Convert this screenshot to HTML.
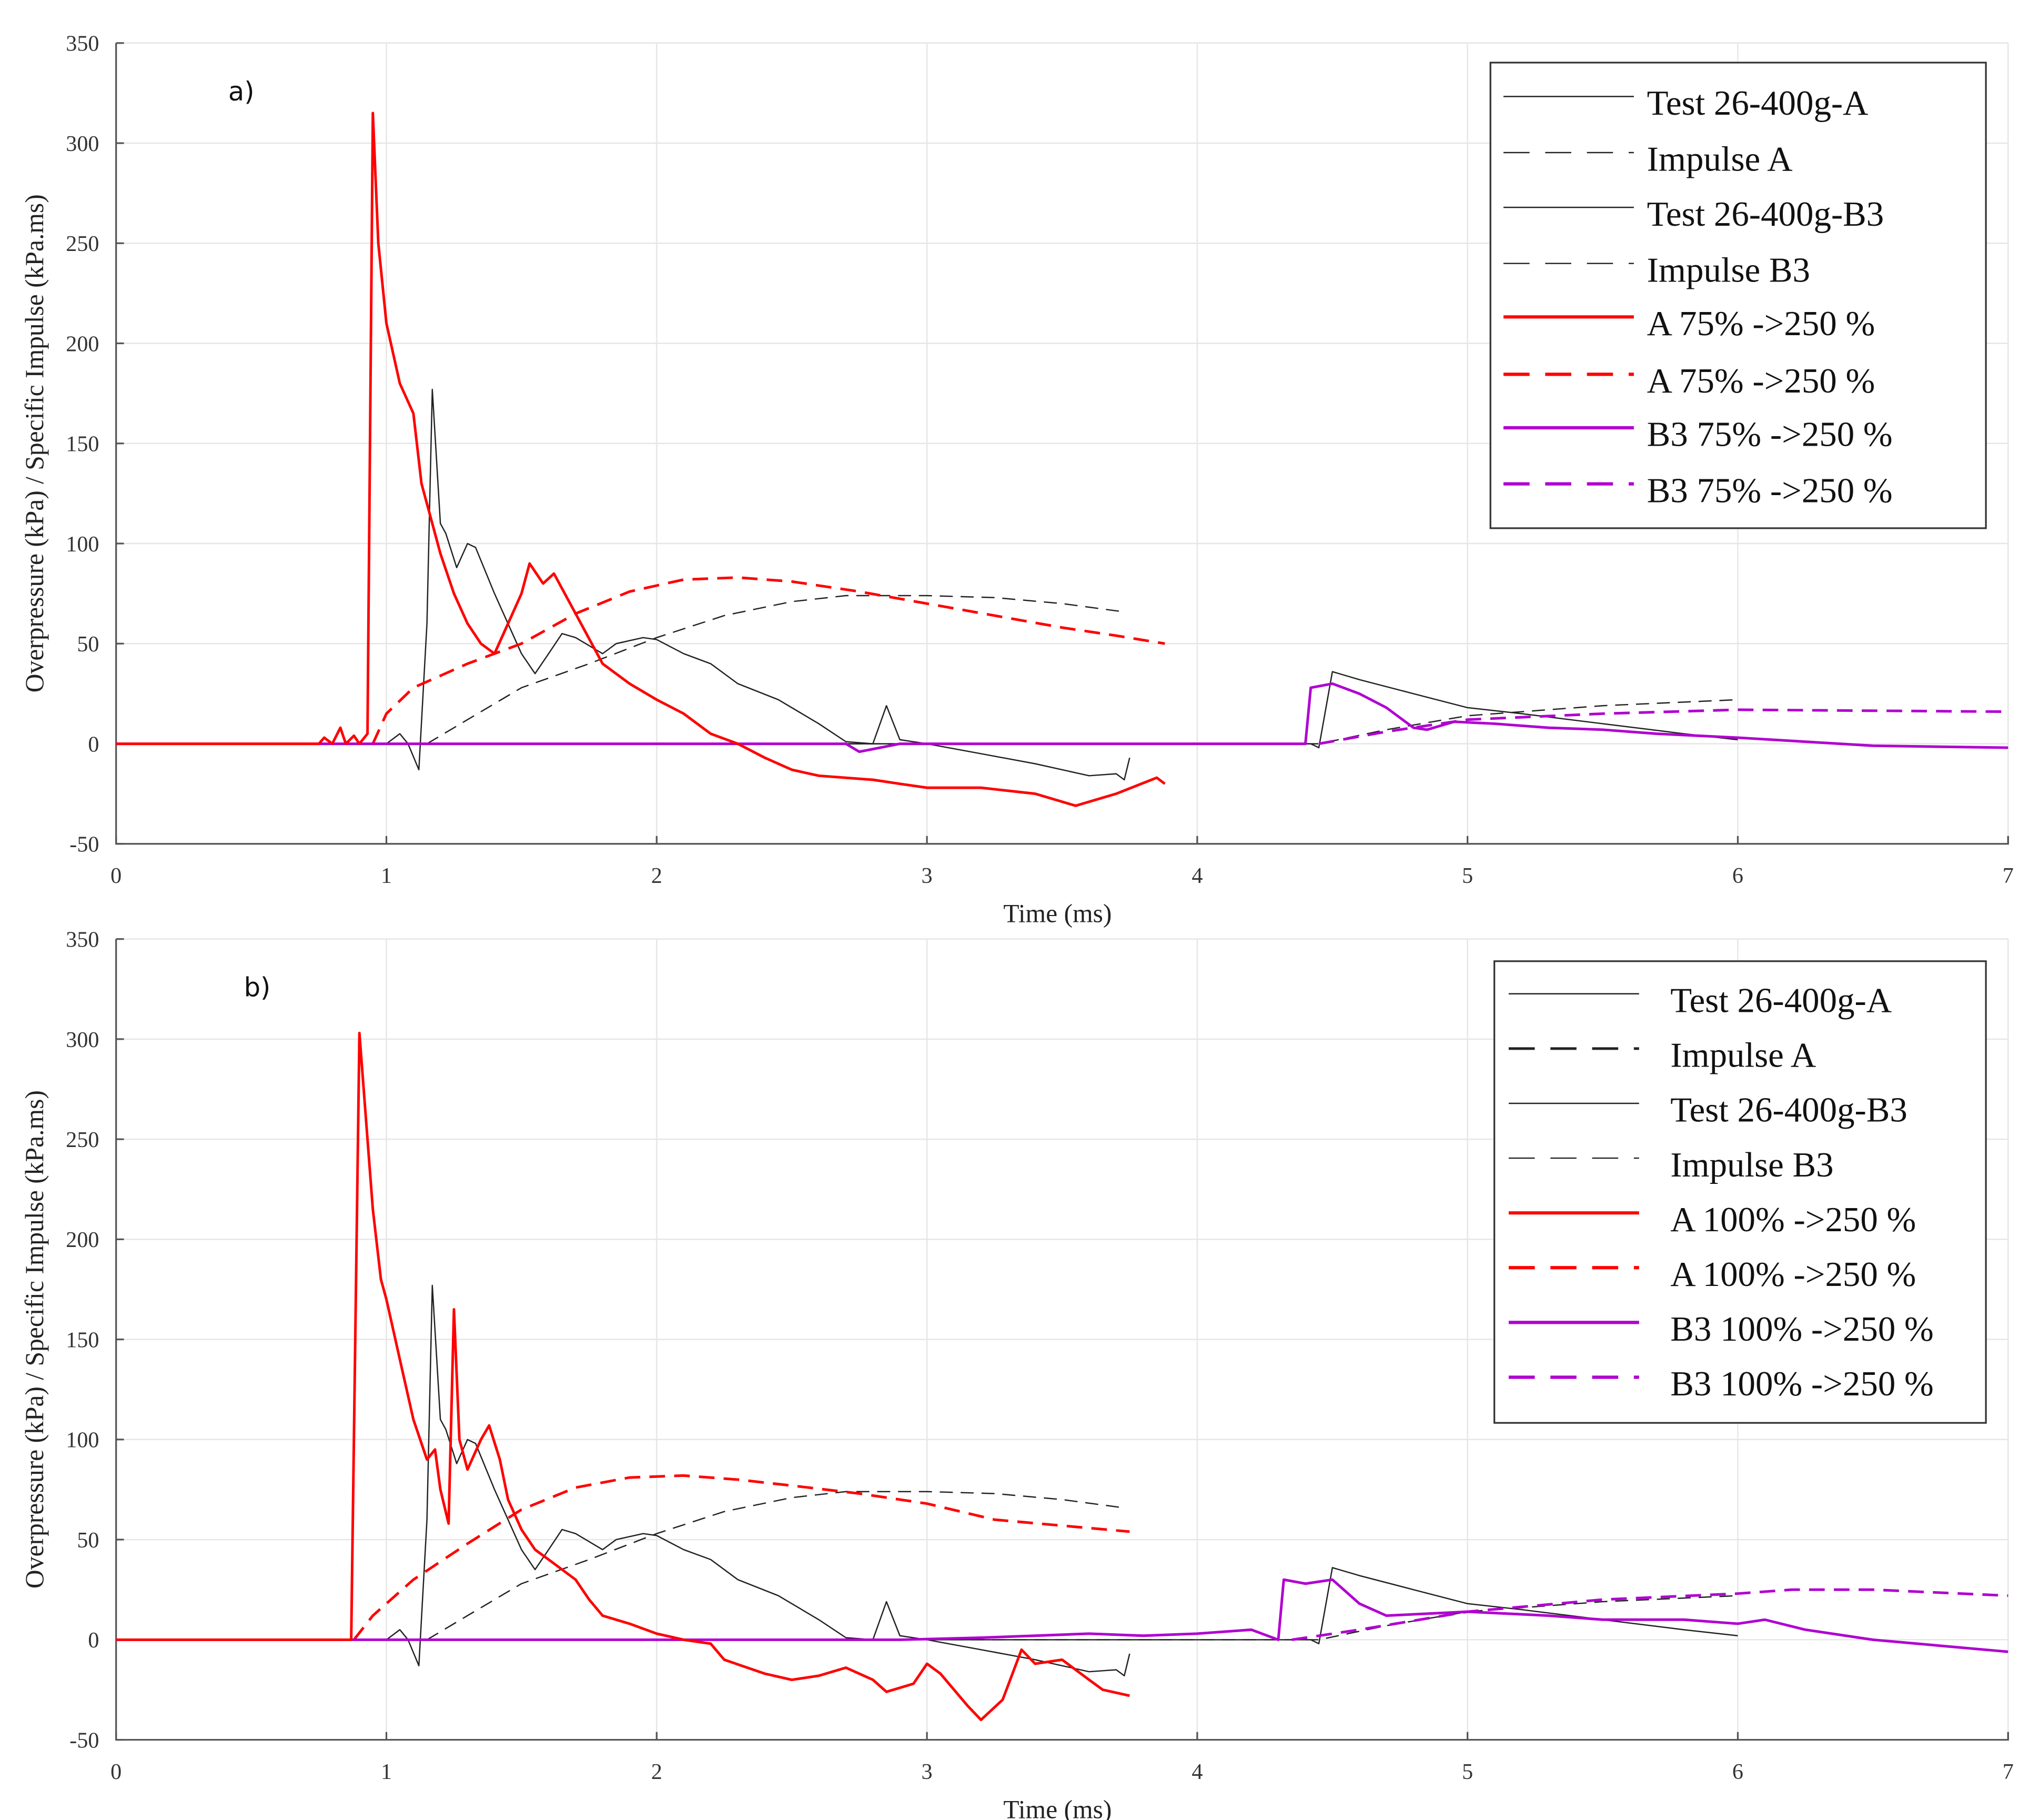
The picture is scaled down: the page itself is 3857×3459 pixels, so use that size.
<!DOCTYPE html>
<html><head><meta charset="utf-8"><style>
html,body{margin:0;padding:0;background:#fff}
svg{display:block}
</style></head><body>
<svg id="chart" xmlns="http://www.w3.org/2000/svg" width="3857" height="3459" viewBox="0 0 1556 1395.5"></svg>
<script>
// ---- data (time in ms, value in kPa / kPa.ms) ----
const xTicks = [0,1,2,3,4,5,6,7];
const yTicks = [-50,0,50,100,150,200,250,300,350];

const testA_t = [0,1.0,1.05,1.08,1.12,1.15,1.17,1.2,1.22,1.26,1.3,1.33,1.4,1.5,1.55,1.6,1.65,1.7,1.8,1.85,1.95,2.0,2.1,2.2,2.3,2.45,2.6,2.7,2.8,2.85,2.9,3.0,3.2,3.4,3.6,3.7,3.73,3.75];
const testA_v = [0,0,5,0,-13,60,177,110,105,88,100,98,75,45,35,45,55,53,45,50,53,52,45,40,30,22,10,1,0,19,2,0,-5,-10,-16,-15,-18,-7];
const testB3_t = [0,4.42,4.45,4.5,4.6,4.8,5.0,5.2,5.5,5.8,6.0];
const testB3_v = [0,0,-2,36,32,25,18,15,10,5,2];
const impA_t = [1.15,1.3,1.5,1.75,2.0,2.25,2.5,2.7,3.0,3.25,3.5,3.72];
const impA_v = [0,12,28,40,53,64,71,74,74,73,70,66];
const impB3_t = [0,4.45,4.7,5.0,5.5,6.0];
const impB3_v = [0,0,7,14,19,22];

const a_redS_t = [0,0.75,0.77,0.8,0.83,0.85,0.88,0.9,0.93,0.95,0.97,1.0,1.05,1.1,1.13,1.17,1.2,1.25,1.3,1.35,1.4,1.45,1.5,1.53,1.58,1.62,1.7,1.8,1.9,2.0,2.1,2.2,2.3,2.4,2.5,2.6,2.8,2.9,3.0,3.2,3.4,3.55,3.7,3.85,3.88];
const a_redS_v = [0,0,3,0,8,0,4,0,5,315,250,210,180,165,130,110,95,75,60,50,45,60,75,90,80,85,65,40,30,22,15,5,0,-7,-13,-16,-18,-20,-22,-22,-25,-31,-25,-17,-20];
const a_redD_t = [0.95,1.0,1.1,1.3,1.5,1.7,1.9,2.1,2.3,2.5,2.75,3.0,3.25,3.5,3.7,3.88];
const a_redD_v = [0,15,28,40,50,65,76,82,83,81,76,70,64,58,54,50];
const a_magS_t = [0,2.7,2.75,2.9,4.4,4.42,4.5,4.6,4.7,4.8,4.85,4.95,5.1,5.3,5.5,5.7,6.0,6.5,7.0];
const a_magS_v = [0,0,-4,0,0,28,30,25,18,8,7,11,10,8,7,5,3,-1,-2];
const a_magD_t = [4.45,4.7,5.0,5.5,6.0,7.0];
const a_magD_v = [0,6,12,15,17,16];

const b_redS_t = [0,0.87,0.9,0.93,0.95,0.98,1.0,1.05,1.1,1.15,1.18,1.2,1.23,1.25,1.27,1.3,1.35,1.38,1.42,1.45,1.5,1.55,1.6,1.7,1.75,1.8,1.9,2.0,2.1,2.2,2.25,2.4,2.5,2.6,2.7,2.8,2.85,2.95,3.0,3.05,3.15,3.2,3.28,3.35,3.4,3.5,3.6,3.65,3.75];
const b_redS_v = [0,0,303,250,215,180,170,140,110,90,95,75,58,165,100,85,100,107,90,70,55,45,40,30,20,12,8,3,0,-2,-10,-17,-20,-18,-14,-20,-26,-22,-12,-17,-33,-40,-30,-5,-12,-10,-20,-25,-28];
const b_redD_t = [0.88,0.95,1.1,1.3,1.5,1.7,1.9,2.1,2.3,2.5,2.75,3.0,3.25,3.5,3.75];
const b_redD_v = [0,12,30,48,65,76,81,82,80,77,73,68,60,57,54];
const b_magS_t = [0,2.9,3.2,3.4,3.6,3.8,4.0,4.2,4.3,4.32,4.4,4.5,4.6,4.7,5.0,5.3,5.5,5.8,6.0,6.1,6.25,6.5,7.0];
const b_magS_v = [0,0,1,2,3,2,3,5,0,30,28,30,18,12,14,12,10,10,8,10,5,0,-6];
const b_magD_t = [4.35,4.6,5.0,5.5,6.0,6.2,6.5,7.0];
const b_magD_v = [0,5,14,20,23,25,25,22];

const NS = "http://www.w3.org/2000/svg";
const svg = document.getElementById('chart');
function mk(tag, attrs, parent){ const e=document.createElementNS(NS,tag); for(const k in attrs) e.setAttribute(k,attrs[k]); (parent||svg).appendChild(e); return e; }

function panel(id, top, bottom, label, labelX, series, legend){
  const L=89, R=1540;
  const g = mk('g',{});
  
  
  const xs = t => L + (t-0)/(7-0)*(R-L);
  const ys = v => bottom - (v+50)/400*(bottom-top);
  xTicks.forEach(t=>{ const l=mk('line',{x1:xs(t),x2:xs(t),y1:top,y2:bottom,stroke:'#e6e6e6','stroke-width':1},g);
      });
  yTicks.forEach(v=>{ const l=mk('line',{x1:L,x2:R,y1:ys(v),y2:ys(v),stroke:'#e6e6e6','stroke-width':1},g);
      });
  const ax = mk('path',{d:`M${L} ${top} L${L} ${bottom} L${R} ${bottom} L${R} ${bottom-6}`,fill:'none',stroke:'#555','stroke-width':1.3},g);
   
  yTicks.forEach(v=>{ mk('line',{x1:L,x2:L+6,y1:ys(v),y2:ys(v),stroke:'#555','stroke-width':1.3},g);
    const tx=mk('text',{x:L-13,y:ys(v)+6,'text-anchor':'end','font-family':'Liberation Serif, serif','font-size':17,fill:'#333'},g);
    tx.textContent=v;   });
  xTicks.forEach(t=>{ mk('line',{x1:xs(t),x2:xs(t),y1:bottom,y2:bottom-6,stroke:'#555','stroke-width':1.3},g);
    const tx=mk('text',{x:xs(t),y:bottom+30,'text-anchor':'middle','font-family':'Liberation Serif, serif','font-size':17,fill:'#333'},g);
    tx.textContent=t;   });
  const xt=mk('text',{x:811,y:bottom+60,'text-anchor':'middle','font-family':'Liberation Serif, serif','font-size':20,fill:'#222'},g);
  xt.textContent='Time (ms)';  
  const cy=(top+bottom)/2;
  const yt=mk('text',{x:0,y:0,transform:`translate(33 ${cy}) rotate(-90)`,'text-anchor':'middle','font-family':'Liberation Serif, serif','font-size':20,fill:'#222'},g);
  yt.textContent='Overpressure (kPa) / Specific Impulse (kPa.ms)';  
  const pl=mk('text',{x:labelX,y:top+44,'font-family':'DejaVu Sans, sans-serif','font-size':20,fill:'#111'},g);
  pl.textContent=label;  
  series.forEach(s=>{
    const d = s.t.map((t,i)=>(i?'L':'M')+xs(t).toFixed(1)+' '+ys(s.v[i]).toFixed(1)).join(' ');
    const p=mk('path',{d:d,fill:'none',stroke:s.c,'stroke-width':s.w,'stroke-dasharray':s.dash||'none','stroke-linejoin':'round'},g);
    
    
  });
  const lg=mk('g',{},g);
  
  
  mk('rect',{x:legend.x,y:legend.y,width:legend.w,height:legend.h,fill:'#fff',stroke:'#333','stroke-width':1.3},lg);
  legend.items.forEach((it,i)=>{
    const y=legend.rows[i];
    mk('line',{x1:legend.lx1,x2:legend.lx1+100,y1:y,y2:y,stroke:it.c,'stroke-width':it.w,'stroke-dasharray':it.dash||'none'},lg);
    const tx=mk('text',{x:legend.tx,y:y+14,'font-family':'Liberation Serif, serif','font-size':27,fill:'#111'},lg);
    tx.textContent=it.label;  
  });
}

const bk='#222', red='#ff0000', mag='#b000d0';
const baseBlack = [
  {name:'test-a-line',t:testA_t,v:testA_v,c:bk,w:1},
  {name:'test-b3-line',t:testB3_t,v:testB3_v,c:bk,w:1},
  {name:'impulse-a-line',t:impA_t,v:impA_v,c:bk,w:1,dash:'10 6'},
  {name:'impulse-b3-line',t:impB3_t,v:impB3_v,c:bk,w:1,dash:'10 6'}
];
panel('panel-a',33,647,'a)',175,[
  ...baseBlack,
  {name:'a-75-impulse',t:a_redD_t,v:a_redD_v,c:red,w:2,dash:'12 7'},
  {name:'b3-75-impulse',t:a_magD_t,v:a_magD_v,c:mag,w:2,dash:'12 7'},
  {name:'b3-75-pressure',t:a_magS_t,v:a_magS_v,c:mag,w:2},
  {name:'a-75-pressure',t:a_redS_t,v:a_redS_v,c:red,w:2}
],{x:1143,y:48,w:380,h:357,lx1:1153,tx:1263,rows:[74,117,159,202,243,287,328,371],
 items:[{label:'Test 26-400g-A',c:bk,w:1},{label:'Impulse A',c:bk,w:1,dash:'20 12'},{label:'Test 26-400g-B3',c:bk,w:1},{label:'Impulse B3',c:bk,w:1,dash:'20 12'},
 {label:'A 75% ->250 %',c:red,w:2.5},{label:'A 75% ->250 %',c:red,w:2.5,dash:'20 12'},{label:'B3 75% ->250 %',c:mag,w:2.5},{label:'B3 75% ->250 %',c:mag,w:2.5,dash:'20 12'}]});

panel('panel-b',720,1334,'b)',187,[
  ...baseBlack,
  {name:'a-100-impulse',t:b_redD_t,v:b_redD_v,c:red,w:2,dash:'12 7'},
  {name:'b3-100-impulse',t:b_magD_t,v:b_magD_v,c:mag,w:2,dash:'12 7'},
  {name:'b3-100-pressure',t:b_magS_t,v:b_magS_v,c:mag,w:2},
  {name:'a-100-pressure',t:b_redS_t,v:b_redS_v,c:red,w:2}
],{x:1146,y:737,w:377,h:354,lx1:1157,tx:1281,rows:[762,804,846,888,930,972,1014,1056],
 items:[{label:'Test 26-400g-A',c:bk,w:1},{label:'Impulse A',c:bk,w:2,dash:'20 12'},{label:'Test 26-400g-B3',c:bk,w:1},{label:'Impulse B3',c:bk,w:1,dash:'20 12'},
 {label:'A 100% ->250 %',c:red,w:2.5},{label:'A 100% ->250 %',c:red,w:2.5,dash:'20 12'},{label:'B3 100% ->250 %',c:mag,w:2.5},{label:'B3 100% ->250 %',c:mag,w:2.5,dash:'20 12'}]});
</script>
</body></html>
